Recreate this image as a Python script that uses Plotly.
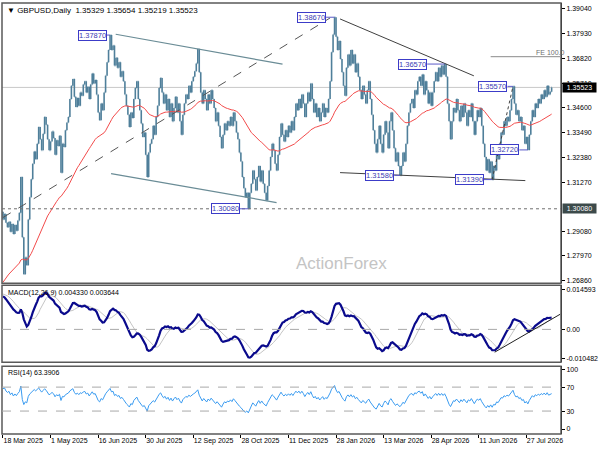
import plotly.graph_objects as go

# ---------------- data ----------------
date_labels = ["18 Mar 2025", "1 May 2025", "16 Jun 2025", "30 Jul 2025", "12 Sep 2025",
               "28 Oct 2025", "11 Dec 2025", "28 Jan 2026", "13 Mar 2026", "28 Apr 2026",
               "11 Jun 2026", "27 Jul 2026"]
date_bars = [0, 32, 64, 96, 128, 160, 192, 224, 256, 288, 320, 352]

closes = [
    1.2960, 1.2985, 1.2945, 1.2925, 1.2950, 1.2905, 1.2940, 1.2895, 1.2935, 1.2910,
    1.2955, 1.2990, 1.3150, 1.2880, 1.2715, 1.2790, 1.2755, 1.2960, 1.3060, 1.3140,
    1.3210, 1.3265, 1.3230, 1.3300, 1.3375, 1.3320, 1.3270, 1.3345, 1.3420, 1.3385,
    1.3320, 1.3270, 1.3310, 1.3355, 1.3325, 1.3250, 1.3315, 1.3290, 1.3335, 1.3170,
    1.3300, 1.3285, 1.3360, 1.3395, 1.3420, 1.3500, 1.3560, 1.3590, 1.3510, 1.3465,
    1.3505, 1.3470, 1.3530, 1.3515, 1.3565, 1.3580, 1.3530, 1.3555, 1.3500, 1.3565,
    1.3615, 1.3570, 1.3585, 1.3520, 1.3440, 1.3405, 1.3480, 1.3450, 1.3530, 1.3605,
    1.3665, 1.3720, 1.3787, 1.3720, 1.3740, 1.3650, 1.3685, 1.3640, 1.3665, 1.3600,
    1.3625, 1.3580, 1.3520, 1.3470, 1.3430, 1.3375, 1.3440, 1.3415, 1.3500, 1.3550,
    1.3580, 1.3500, 1.3450, 1.3390, 1.3330, 1.3350, 1.3250, 1.3150, 1.3260, 1.3300,
    1.3320, 1.3380, 1.3340, 1.3420, 1.3470, 1.3550, 1.3595, 1.3530, 1.3480, 1.3520,
    1.3450, 1.3500, 1.3420, 1.3480, 1.3400, 1.3460, 1.3510, 1.3440, 1.3480, 1.3400,
    1.3340, 1.3430, 1.3480, 1.3520, 1.3500, 1.3560, 1.3530, 1.3580, 1.3600, 1.3625,
    1.3660, 1.3725, 1.3620, 1.3530, 1.3480, 1.3540, 1.3500, 1.3450, 1.3520, 1.3480,
    1.3540, 1.3500, 1.3460, 1.3400, 1.3440, 1.3380, 1.3330, 1.3280, 1.3340, 1.3390,
    1.3360, 1.3400, 1.3380, 1.3420, 1.3380, 1.3440, 1.3400, 1.3350, 1.3320, 1.3260,
    1.3220, 1.3150, 1.3100, 1.3060, 1.3080, 1.3008, 1.3080, 1.3120, 1.3180, 1.3140,
    1.3090, 1.3150, 1.3200, 1.3130, 1.3180, 1.3120, 1.3080, 1.3045, 1.3110, 1.3180,
    1.3240, 1.3300, 1.3270, 1.3210, 1.3180, 1.3250, 1.3330, 1.3390, 1.3340, 1.3310,
    1.3360, 1.3330, 1.3380, 1.3350, 1.3400, 1.3360, 1.3420, 1.3480, 1.3450, 1.3500,
    1.3460, 1.3520, 1.3480, 1.3420, 1.3480, 1.3530, 1.3490, 1.3570, 1.3500, 1.3440,
    1.3480, 1.3420, 1.3460, 1.3400, 1.3440, 1.3480, 1.3420, 1.3460, 1.3440, 1.3500,
    1.3580, 1.3710, 1.3790, 1.3867, 1.3780, 1.3720, 1.3760, 1.3680, 1.3620, 1.3560,
    1.3515, 1.3640, 1.3700, 1.3650, 1.3720, 1.3660, 1.3700, 1.3620, 1.3660, 1.3600,
    1.3540, 1.3500, 1.3560, 1.3520, 1.3480, 1.3540, 1.3580, 1.3500, 1.3430, 1.3360,
    1.3300, 1.3260, 1.3320, 1.3380, 1.3300, 1.3260, 1.3340, 1.3400, 1.3350, 1.3280,
    1.3400, 1.3440, 1.3360, 1.3280, 1.3220, 1.3260, 1.3200, 1.3158, 1.3200, 1.3260,
    1.3220, 1.3300, 1.3380, 1.3440, 1.3480, 1.3500, 1.3460, 1.3540, 1.3520, 1.3580,
    1.3600, 1.3560, 1.3610, 1.3520, 1.3580, 1.3540, 1.3480, 1.3530, 1.3470, 1.3530,
    1.3580, 1.3620, 1.3580, 1.3640, 1.3600, 1.3650, 1.3610, 1.3657, 1.3600, 1.3480,
    1.3400, 1.3320, 1.3400, 1.3460, 1.3440, 1.3500, 1.3450, 1.3400, 1.3470, 1.3420,
    1.3480, 1.3440, 1.3380, 1.3450, 1.3420, 1.3480, 1.3400, 1.3340, 1.3400, 1.3450,
    1.3420, 1.3460, 1.3380, 1.3300, 1.3240, 1.3180, 1.3230, 1.3170, 1.3220, 1.3139,
    1.3200, 1.3180, 1.3250, 1.3230, 1.3300, 1.3350, 1.3340, 1.3400, 1.3380, 1.3420,
    1.3400, 1.3450, 1.3500, 1.3557, 1.3480, 1.3430, 1.3450, 1.3400, 1.3420, 1.3360,
    1.3380, 1.3300, 1.3330, 1.3272, 1.3340, 1.3400, 1.3450, 1.3420, 1.3480, 1.3460,
    1.3500, 1.3480, 1.3520, 1.3500, 1.3540, 1.3510, 1.3560, 1.3520, 1.3533, 1.35523,
]

# estimated state just before the first visible bar (read from indicator levels at the left edge)
prev_close = 1.2995
ema55_seed = 1.2668
ema12_seed = 1.2905
ema26_seed = 1.2780
signal_seed = 0.0130
rsi_gain_seed = 0.0028
rsi_loss_seed = 0.0011

price_ticks = [1.39040, 1.37930, 1.36820, 1.35710, 1.34600, 1.33490, 1.32380, 1.31270,
               1.29080, 1.27970, 1.26860]
macd_ticks = [0.014593, 0.0, -0.010482]
macd_tick_text = ["0.014593", "0.00", "-0.010482"]
rsi_ticks = [100, 70, 30, 0]

# labelled swing points: (text, value, bar of label right edge, bar of swing)
swing_labels = [
    ("1.37870", 1.37870, 70.0, 72),
    ("1.38670", 1.38670, 217.3, 223),
    ("1.36570", 1.36570, 285.3, 297),
    ("1.35570", 1.35570, 339.3, 343),
    ("1.32720", 1.32720, 347.3, 353),
    ("1.31390", 1.31390, 323.3, 329),
    ("1.31580", 1.31580, 263.3, 267),
    ("1.30080", 1.30080, 159.3, 165),
]
current_price = 1.35523
support_level = 1.30080
fe_level = 1.36900

# trendlines: (bar0, price0, bar1, price1)
channel_top = (75.8, 1.37908, 188.0, 1.36566)
channel_bottom = (72.7, 1.31657, 184.0, 1.30360)
rise_dotted = (0.0, 1.29689, 220.0, 1.38637)
fall_line = (226.7, 1.38593, 316.7, 1.36042)
base_line = (226.7, 1.31702, 351.3, 1.31344)
swing_dotted = (329.0, 1.31390, 343.0, 1.35570)
macd_line_tl = (330.7, -0.00830, 374.7, 0.00551)

# ---------------- derived series ----------------
n = len(closes)
bars = list(range(n))
opens = [prev_close] + closes[:-1]
highs = [max(o, c) for o, c in zip(opens, closes)]
lows = [min(o, c) for o, c in zip(opens, closes)]


def ema(vals, period, seed):
    k = 2.0 / (period + 1)
    out, e = [], seed
    for v in vals:
        e = e + k * (v - e)
        out.append(e)
    return out


ma55 = ema(closes, 55, ema55_seed)
e12 = ema(closes, 12, ema12_seed)
e26 = ema(closes, 26, ema26_seed)
macd = [a - b for a, b in zip(e12, e26)]
hist = [signal_seed] * 8 + macd
signal = [sum(hist[i:i + 9]) / 9 for i in range(n)]

rsi = []
ag, al, pc = rsi_gain_seed, rsi_loss_seed, prev_close
for c in closes:
    ch = c - pc
    ag = (ag * 13 + max(ch, 0)) / 14
    al = (al * 13 + max(-ch, 0)) / 14
    rsi.append(100 - 100 / (1 + ag / al))
    pc = c

# ---------------- figure ----------------
FONT = "Liberation Sans"
BAR = "#4F7F9A"
fig = go.Figure()

fig.add_trace(go.Ohlc(x=bars, open=opens, high=highs, low=lows, close=closes,
                      increasing=dict(line=dict(color=BAR, width=1.6)),
                      decreasing=dict(line=dict(color=BAR, width=1.6)),
                      tickwidth=0.25, xaxis="x", yaxis="y", hoverinfo="skip"))
fig.add_trace(go.Scatter(x=bars, y=ma55, mode="lines", line=dict(color="#F24B4B", width=1),
                         xaxis="x", yaxis="y", hoverinfo="skip"))
fig.add_trace(go.Scatter(x=bars, y=signal, mode="lines", line=dict(color="#C4C4C4", width=1),
                         xaxis="x2", yaxis="y2", hoverinfo="skip"))
fig.add_trace(go.Scatter(x=bars, y=macd, mode="lines", line=dict(color="#0A0A8C", width=2.2),
                         xaxis="x2", yaxis="y2", hoverinfo="skip"))
fig.add_trace(go.Scatter(x=bars, y=rsi, mode="lines", line=dict(color="#3A9BF0", width=1),
                         xaxis="x3", yaxis="y3", hoverinfo="skip"))

xr = [-0.667, 375.3]
common_x = dict(range=xr, showgrid=False, zeroline=False, fixedrange=True)
tickf = dict(family=FONT, size=7, color="#000000")

price_dom = [0.3495, 1.0]
macd_dom = [0.1667, 0.3449]
rsi_dom = [0.0, 0.1574]

fig.update_layout(
    width=600, height=450,
    margin=dict(l=2, r=34, t=2, b=16),
    paper_bgcolor="white", plot_bgcolor="white",
    showlegend=False,
    xaxis=dict(**common_x, anchor="y", showticklabels=False, rangeslider=dict(visible=False)),
    xaxis2=dict(**common_x, anchor="y2", showticklabels=False),
    xaxis3=dict(**common_x, anchor="y3", tickvals=date_bars, ticktext=date_labels,
                ticks="outside", ticklen=3, tickcolor="#000000", tickangle=0,
                ticklabelposition="outside right", tickfont=tickf),
    yaxis=dict(domain=price_dom, range=[1.26736, 1.39308], side="right", anchor="x",
               tickvals=price_ticks, ticktext=[f"{v:.5f}" for v in price_ticks],
               ticks="outside", ticklen=3, tickcolor="#000000", showline=True,
               linecolor="#000000", linewidth=1, showgrid=False, zeroline=False,
               tickfont=tickf, fixedrange=True),
    yaxis2=dict(domain=macd_dom, range=[-0.011935, 0.016046], side="right", anchor="x2",
                tickvals=macd_ticks, ticktext=macd_tick_text, ticks="outside", ticklen=3,
                tickcolor="#000000", showline=True, linecolor="#000000", linewidth=1,
                showgrid=False, zeroline=False, tickfont=tickf, fixedrange=True),
    yaxis3=dict(domain=rsi_dom, range=[-8.33, 105], side="right", anchor="x3",
                tickvals=rsi_ticks, ticktext=[str(v) for v in rsi_ticks], ticks="outside",
                ticklen=3, tickcolor="#000000", showline=True, linecolor="#000000",
                linewidth=1, showgrid=False, zeroline=False, tickfont=tickf, fixedrange=True),
)

shapes = []
# pane frames
for yd in ("y", "y2", "y3"):
    shapes.append(dict(type="rect", xref="x domain", yref=f"{yd} domain", x0=0, x1=1, y0=0, y1=1,
                       line=dict(color="#5A5A5A", width=1.5), layer="above"))
# horizontal levels
shapes.append(dict(type="line", xref="x domain", yref="y", x0=0, x1=1,
                   y0=current_price, y1=current_price, line=dict(color="#C8C8C8", width=1),
                   layer="below"))
shapes.append(dict(type="line", xref="x domain", yref="y", x0=0, x1=1,
                   y0=support_level, y1=support_level,
                   line=dict(color="#707070", width=1, dash="dot")))
shapes.append(dict(type="line", xref="x", yref="y", x0=328, x1=xr[1],
                   y0=fe_level, y1=fe_level, line=dict(color="#8A8A8A", width=1)))
shapes.append(dict(type="line", xref="x2 domain", yref="y2", x0=0, x1=1, y0=0, y1=0,
                   line=dict(color="#A8A8A8", width=1, dash="dash")))
for lv in (70, 30):
    shapes.append(dict(type="line", xref="x3 domain", yref="y3", x0=0, x1=1, y0=lv, y1=lv,
                       line=dict(color="#A8A8A8", width=1, dash="dash")))


def tl(coords, color, dash="solid", xref="x", yref="y", width=1):
    b0, p0, b1, p1 = coords
    return dict(type="line", xref=xref, yref=yref, x0=b0, y0=p0, x1=b1, y1=p1,
                line=dict(color=color, width=width, dash=dash))


shapes.append(tl(channel_top, "#6A8C96", width=1.2))
shapes.append(tl(channel_bottom, "#6A8C96", width=1.2))
shapes.append(tl(rise_dotted, "#555555", dash="dash"))
shapes.append(tl(fall_line, "#404040"))
shapes.append(tl(base_line, "#404040"))
shapes.append(tl(swing_dotted, "#404040", dash="dot"))
shapes.append(tl(macd_line_tl, "#202020", xref="x2", yref="y2"))

annotations = []
for text, val, xr_edge, xb in swing_labels:
    shapes.append(dict(type="line", xref="x", yref="y", x0=xr_edge, x1=xb, y0=val, y1=val,
                       line=dict(color="#5A5AC8", width=1)))
    annotations.append(dict(text=text, x=xr_edge, y=val, xref="x", yref="y",
                            xanchor="right", yanchor="middle", showarrow=False,
                            font=dict(family=FONT, size=7.5, color="#3C3CB4"),
                            bgcolor="white", bordercolor="#3C3CC8", borderwidth=1, borderpad=0))

# header texts
annotations.append(dict(text="\u25BC GBPUSD,Daily  1.35329 1.35654 1.35219 1.35523",
                        xref="x domain", yref="y domain", x=0.005, y=0.997,
                        xanchor="left", yanchor="top", showarrow=False,
                        font=dict(family=FONT, size=8, color="#000000")))
annotations.append(dict(text="MACD(12,26,9) 0.004330 0.003644",
                        xref="x2 domain", yref="y2 domain", x=0.008, y=0.985,
                        xanchor="left", yanchor="top", showarrow=False,
                        font=dict(family=FONT, size=7, color="#000000")))
annotations.append(dict(text="RSI(14) 63.3906",
                        xref="x3 domain", yref="y3 domain", x=0.008, y=0.985,
                        xanchor="left", yanchor="top", showarrow=False,
                        font=dict(family=FONT, size=7, color="#000000")))
annotations.append(dict(text="FE 100.0", xref="x domain", yref="y", x=1.0, y=fe_level,
                        xanchor="right", yanchor="bottom", showarrow=False, yshift=-1, xshift=6,
                        font=dict(family=FONT, size=7, color="#707070")))
# watermark
annotations.append(dict(text="ActionForex", xref="x", yref="y", x=228, y=1.2763,
                        showarrow=False, font=dict(family=FONT, size=17, color="#C4C4C4")))
# right-axis price boxes
annotations.append(dict(text="1.35523", xref="x domain", yref="y", x=1.0, y=current_price,
                        xanchor="left", yanchor="middle", xshift=1, showarrow=False,
                        width=31, bgcolor="#000000", borderpad=1,
                        font=dict(family=FONT, size=7, color="#FFFFFF")))
annotations.append(dict(text="1.30080", xref="x domain", yref="y", x=1.0, y=support_level,
                        xanchor="left", yanchor="middle", xshift=1, showarrow=False,
                        width=31, bgcolor="#3C4A4A", borderpad=1,
                        font=dict(family=FONT, size=7, color="#FFFFFF")))

fig.update_layout(shapes=shapes, annotations=annotations)
fig.write_html("out.html", config={"displayModeBar": False},
               post_script="document.body.style.margin='0';document.body.style.padding='0';")
